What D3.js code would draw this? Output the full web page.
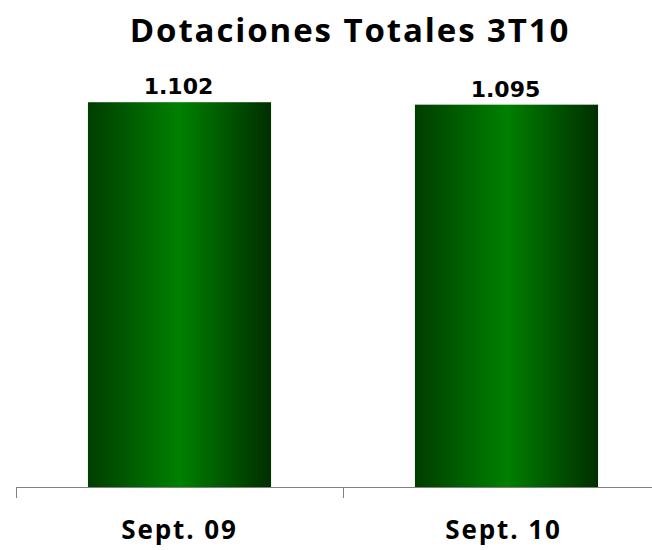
<!doctype html>
<html>
<head>
<meta charset="utf-8">
<title>Dotaciones Totales 3T10</title>
<script src="https://cdn.jsdelivr.net/npm/d3@7"></script>
<style>
  body { margin: 0; background: #fff; }
  svg { display: block; font-family: "Open Sans", Lato, sans-serif; }
  .val { font-family: "DejaVu Sans", Verdana, sans-serif; }
</style>
</head>
<body>
<div id="chart"></div>
<script>
var title = "Dotaciones Totales 3T10";
var categories = ["Sept. 09", "Sept. 10"];
var values = [1.102, 1.095];
var valueLabels = ["1.102", "1.095"];

var width = 652, height = 550;
var svg = d3.select("#chart").append("svg")
  .attr("width", width).attr("height", height);

var defs = svg.append("defs");
var grad = defs.append("linearGradient").attr("id", "barGrad")
  .attr("x1", "0%").attr("x2", "100%").attr("y1", "0%").attr("y2", "0%");
grad.append("stop").attr("offset", "0%").attr("stop-color", "#003d00");
grad.append("stop").attr("offset", "50%").attr("stop-color", "#008000");
grad.append("stop").attr("offset", "100%").attr("stop-color", "#002e00");

var axisY = 487;
var x = d3.scaleBand().domain(categories).range([16, 670]).paddingInner(0.44).paddingOuter(0.22);
var y = d3.scaleLinear().domain([0, 1.2]).range([axisY, axisY - 419]);

svg.append("text")
  .attr("x", 350).attr("y", 42)
  .attr("text-anchor", "middle")
  .attr("font-size", 33).attr("font-weight", "bold")
  .attr("letter-spacing", 1.9)
  .text(title);

svg.selectAll("rect.bar").data(values).enter().append("rect")
  .attr("class", "bar")
  .attr("x", function(d, i) { return x(categories[i]); })
  .attr("y", function(d) { return y(d); })
  .attr("width", x.bandwidth())
  .attr("height", function(d) { return y(0) - y(d); })
  .attr("fill", "url(#barGrad)");

svg.selectAll("text.val").data(values).enter().append("text")
  .attr("class", "val")
  .attr("x", function(d, i) { return x(categories[i]) + x.bandwidth() / 2 - 1; })
  .attr("y", function(d) { return y(d) - 8; })
  .attr("text-anchor", "middle")
  .attr("font-size", 22).attr("font-weight", "bold")
  .text(function(d, i) { return valueLabels[i]; });

// axis line with boundary ticks
var step = x.step();
var bounds = [16, 16 + step, 16 + 2 * step];
var ax = svg.append("g");
ax.append("line").attr("stroke", "#808080")
  .attr("x1", 16).attr("x2", 670).attr("y1", axisY + 0.5).attr("y2", axisY + 0.5);
ax.selectAll("line.t").data(bounds).enter().append("line")
  .attr("class", "t").attr("stroke", "#808080")
  .attr("x1", function(d) { return Math.round(d) + 0.5; })
  .attr("x2", function(d) { return Math.round(d) + 0.5; })
  .attr("y1", axisY).attr("y2", axisY + 11);

svg.selectAll("text.cat").data(categories).enter().append("text")
  .attr("class", "cat")
  .attr("x", function(d, i) { return x(d) + x.bandwidth() / 2 - 3 * i; })
  .attr("y", 539)
  .attr("text-anchor", "middle")
  .attr("font-size", 26).attr("font-weight", "bold")
  .attr("letter-spacing", 1.9)
  .text(function(d) { return d; });
</script>
</body>
</html>
